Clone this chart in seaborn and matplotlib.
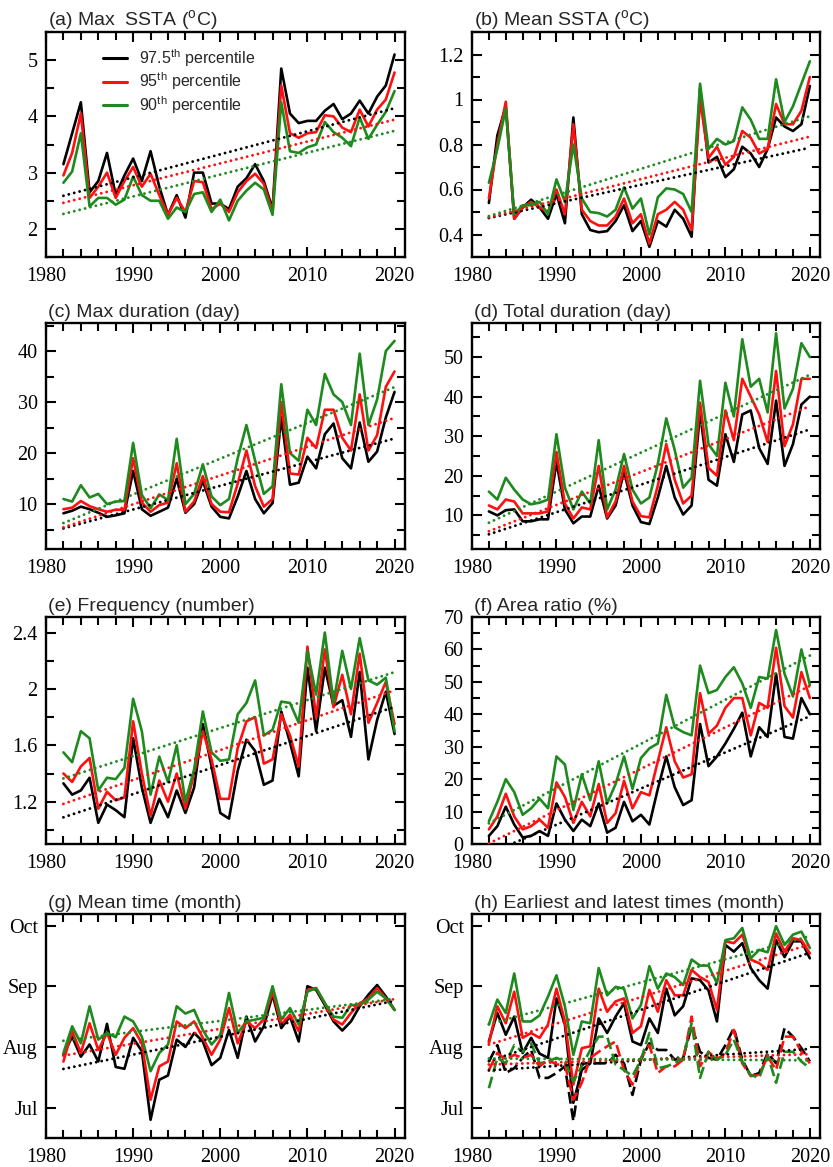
import numpy as np
import matplotlib
matplotlib.use("Agg")
import matplotlib.pyplot as plt
from matplotlib.ticker import MultipleLocator, FixedLocator, NullLocator
from matplotlib.lines import Line2D
import seaborn as sns

years = list(range(1982, 2021))

# (a) Max SSTA
a_975 = [3.15, 3.70, 4.25, 2.65, 2.85, 3.35, 2.60, 2.95, 3.25, 2.85, 3.38, 2.75, 2.25, 2.60, 2.20, 3.00, 3.00, 2.45, 2.45, 2.35,
         2.75, 2.90, 3.15, 2.85, 2.35, 4.85, 4.05, 3.88, 3.92, 3.92, 4.10, 4.22, 3.95, 4.05, 4.28, 4.05, 4.35, 4.55, 5.10]
a_95 = [2.95, 3.35, 4.05, 2.55, 2.75, 3.00, 2.55, 2.85, 3.10, 2.75, 2.98, 2.60, 2.25, 2.55, 2.30, 2.85, 2.83, 2.35, 2.45, 2.30,
        2.65, 2.85, 2.98, 2.80, 2.30, 4.55, 3.70, 3.62, 3.70, 3.72, 4.02, 4.00, 3.80, 3.72, 4.12, 3.82, 4.12, 4.30, 4.78]
a_90 = [2.82, 3.02, 3.70, 2.40, 2.55, 2.55, 2.43, 2.52, 2.93, 2.60, 2.50, 2.50, 2.18, 2.38, 2.30, 2.62, 2.65, 2.30, 2.52, 2.15,
        2.50, 2.68, 2.82, 2.70, 2.25, 4.25, 3.38, 3.35, 3.45, 3.50, 3.90, 3.72, 3.62, 3.47, 3.98, 3.60, 3.85, 4.08, 4.45]

# (b) Mean SSTA
b_975 = [0.54, 0.84, 0.97, 0.47, 0.52, 0.555, 0.52, 0.47, 0.58, 0.45, 0.92, 0.49, 0.42, 0.41, 0.415, 0.46, 0.53, 0.415, 0.46, 0.345,
         0.46, 0.435, 0.51, 0.47, 0.39, 1.05, 0.72, 0.745, 0.655, 0.69, 0.79, 0.76, 0.70, 0.78, 0.92, 0.88, 0.86, 0.89, 1.06]
b_95 = [0.56, 0.80, 0.99, 0.47, 0.52, 0.545, 0.52, 0.50, 0.60, 0.49, 0.89, 0.51, 0.46, 0.44, 0.44, 0.48, 0.56, 0.45, 0.49, 0.36,
        0.49, 0.51, 0.545, 0.51, 0.42, 1.00, 0.74, 0.79, 0.71, 0.745, 0.86, 0.83, 0.76, 0.78, 0.98, 0.89, 0.89, 0.95, 1.10]
b_90 = [0.63, 0.78, 0.96, 0.49, 0.53, 0.53, 0.545, 0.49, 0.645, 0.545, 0.80, 0.56, 0.50, 0.495, 0.48, 0.51, 0.61, 0.515, 0.56, 0.40,
        0.565, 0.605, 0.60, 0.58, 0.50, 1.07, 0.78, 0.825, 0.80, 0.815, 0.965, 0.91, 0.825, 0.825, 1.09, 0.90, 0.97, 1.07, 1.17]

# (c) Max duration
c_975 = [8.2, 8.7, 9.5, 9.0, 8.3, 7.5, 7.8, 8.2, 16.5, 9.0, 7.7, 8.5, 9.3, 15.0, 8.3, 10.0, 14.5, 9.5, 7.5, 7.2,
         11.5, 16.5, 11.0, 8.2, 10.2, 27.0, 13.8, 14.2, 19.3, 17.0, 23.7, 25.8, 19.0, 17.0, 26.0, 18.3, 20.3, 27.0, 32.0]
c_95 = [9.0, 9.3, 10.6, 9.6, 9.0, 8.5, 8.9, 8.9, 19.0, 10.3, 8.5, 9.8, 10.3, 18.0, 8.5, 10.5, 15.5, 10.0, 8.5, 8.4,
        14.0, 20.5, 13.5, 9.5, 11.0, 30.0, 16.0, 15.8, 23.0, 21.0, 28.5, 28.5, 23.0, 20.5, 31.5, 20.5, 23.5, 33.0, 36.0]
c_90 = [11.0, 10.5, 13.7, 11.3, 12.0, 10.0, 10.5, 10.6, 22.0, 11.8, 9.2, 11.9, 10.8, 22.8, 10.0, 12.0, 17.8, 11.5, 9.8, 11.0,
        19.0, 25.5, 18.5, 12.0, 13.5, 33.5, 20.0, 18.5, 28.5, 25.5, 35.5, 31.5, 30.0, 25.5, 39.5, 25.5, 30.5, 40.0, 42.0]

# (d) Total duration
d_975 = [11.0, 10.0, 11.3, 11.5, 8.5, 8.5, 9.0, 9.0, 23.5, 11.5, 8.0, 9.7, 9.7, 17.5, 9.2, 12.5, 21.0, 12.5, 8.3, 7.8,
         14.5, 22.5, 14.5, 10.2, 12.5, 36.0, 19.0, 17.5, 30.5, 23.5, 35.5, 36.5, 27.0, 23.0, 39.0, 22.5, 28.0, 38.0, 40.0]
d_95 = [12.5, 11.5, 14.0, 13.5, 10.5, 10.5, 10.5, 11.0, 26.0, 13.0, 9.2, 12.0, 11.5, 22.5, 9.5, 13.5, 22.5, 13.5, 9.8, 9.5,
        17.5, 28.0, 19.0, 13.0, 15.0, 38.5, 22.0, 20.0, 36.5, 29.0, 44.5, 40.0, 35.5, 28.5, 46.5, 27.5, 33.0, 44.5, 44.5]
d_90 = [16.0, 14.0, 19.5, 16.5, 14.0, 12.8, 13.2, 14.0, 30.5, 17.0, 11.5, 16.0, 13.0, 29.0, 11.5, 16.5, 25.5, 16.5, 13.0, 14.5,
        23.0, 34.5, 26.5, 17.0, 19.5, 44.0, 28.0, 25.0, 43.5, 35.0, 54.5, 42.5, 44.5, 36.0, 56.0, 37.0, 42.0, 53.5, 50.0]

# (e) Frequency
e_975 = [1.33, 1.25, 1.28, 1.37, 1.05, 1.18, 1.14, 1.09, 1.65, 1.30, 1.05, 1.22, 1.09, 1.28, 1.12, 1.30, 1.75, 1.45, 1.12, 1.08,
         1.42, 1.64, 1.56, 1.32, 1.35, 1.84, 1.62, 1.38, 2.15, 1.70, 2.15, 1.88, 1.92, 1.66, 2.12, 1.50, 1.78, 1.98, 1.68]
e_95 = [1.40, 1.34, 1.45, 1.51, 1.15, 1.27, 1.21, 1.23, 1.77, 1.40, 1.10, 1.35, 1.20, 1.40, 1.15, 1.40, 1.70, 1.50, 1.22, 1.22,
        1.58, 1.77, 1.80, 1.47, 1.50, 1.82, 1.67, 1.45, 2.30, 1.80, 2.28, 1.87, 2.10, 1.82, 2.25, 1.76, 1.90, 2.05, 1.75]
e_90 = [1.55, 1.48, 1.70, 1.65, 1.28, 1.37, 1.36, 1.44, 1.93, 1.70, 1.25, 1.52, 1.34, 1.60, 1.20, 1.43, 1.84, 1.55, 1.49, 1.50,
        1.82, 1.90, 2.06, 1.67, 1.71, 1.91, 1.90, 1.76, 2.27, 1.96, 2.40, 1.90, 2.27, 2.00, 2.36, 2.06, 2.03, 2.08, 1.70]

# (f) Area ratio
f_975 = [2.5, 5.5, 11.5, 6.0, 2.0, 2.5, 4.0, 2.5, 12.5, 7.5, 4.0, 7.5, 5.5, 12.5, 3.5, 5.0, 13.0, 7.0, 9.0, 6.0,
         17.0, 27.0, 17.5, 12.0, 13.5, 37.0, 24.0, 27.0, 31.0, 35.5, 40.5, 27.0, 36.0, 33.0, 52.5, 33.0, 32.5, 45.0, 40.0]
f_95 = [4.5, 8.5, 15.5, 8.5, 4.5, 5.5, 7.5, 5.0, 19.0, 14.5, 6.5, 13.0, 8.5, 18.5, 6.5, 9.5, 19.5, 11.0, 16.0, 15.0,
        25.5, 36.0, 25.5, 20.5, 21.5, 46.5, 34.0, 36.5, 42.0, 45.0, 45.0, 33.5, 43.5, 42.0, 60.5, 42.5, 39.0, 53.0, 45.0]
f_90 = [7.0, 13.0, 20.0, 16.0, 9.0, 11.0, 14.0, 11.0, 27.0, 24.5, 10.5, 21.5, 13.5, 25.5, 12.5, 18.5, 27.0, 17.0, 26.5, 29.5,
        31.0, 46.0, 36.0, 34.5, 33.5, 55.0, 46.5, 47.5, 51.5, 54.5, 49.5, 42.0, 51.5, 51.0, 66.0, 52.5, 45.5, 60.0, 49.0]

# (g) Mean time (month number: 7 = Jul ... 10 = Oct)
g_975 = [7.87, 8.17, 7.84, 8.04, 7.76, 8.38, 7.67, 7.64, 8.15, 7.93, 6.80, 7.46, 7.53, 8.12, 8.00, 8.23, 8.09, 7.70, 7.82, 8.28,
         7.82, 8.50, 8.09, 8.34, 8.86, 8.31, 8.50, 8.09, 9.00, 8.94, 8.69, 8.42, 8.27, 8.42, 8.67, 8.86, 9.02, 8.83, 8.61]
g_95 = [7.76, 8.26, 7.90, 8.39, 7.95, 8.23, 7.87, 8.15, 8.31, 8.06, 7.13, 7.68, 7.76, 8.42, 8.31, 8.42, 8.15, 7.87, 8.12, 8.64,
        8.06, 8.42, 8.31, 8.45, 8.91, 8.37, 8.53, 8.26, 8.94, 8.97, 8.72, 8.45, 8.37, 8.56, 8.72, 8.80, 8.97, 8.80, 8.61]
g_90 = [7.90, 8.34, 8.06, 8.67, 8.12, 8.23, 8.16, 8.50, 8.42, 8.17, 7.60, 7.90, 8.04, 8.67, 8.55, 8.61, 8.28, 8.04, 8.20, 8.89,
        8.23, 8.42, 8.45, 8.48, 9.00, 8.45, 8.64, 8.37, 8.91, 8.97, 8.72, 8.50, 8.48, 8.69, 8.69, 8.78, 8.91, 8.80, 8.61]

# (h) Latest times (solid)
h_late_975 = [8.09, 8.56, 8.20, 8.50, 7.90, 8.15, 7.89, 7.82, 8.80, 8.37, 7.08, 7.62, 7.73, 8.47, 8.23, 8.50, 8.72, 8.09, 8.03, 8.47,
              8.23, 8.96, 8.52, 8.67, 9.13, 9.10, 8.93, 8.42, 9.68, 9.57, 9.71, 9.30, 9.10, 8.96, 9.76, 9.48, 9.74, 9.74, 9.46]
h_late_95 = [8.06, 8.67, 8.39, 8.91, 8.15, 8.23, 8.15, 8.37, 8.96, 8.42, 7.38, 7.98, 8.01, 8.96, 8.58, 8.75, 8.80, 8.23, 8.34, 8.94,
             8.58, 9.10, 8.85, 8.85, 9.27, 9.15, 9.07, 8.61, 9.74, 9.71, 9.85, 9.44, 9.38, 9.27, 9.87, 9.57, 9.79, 9.76, 9.54]
h_late_90 = [8.37, 8.78, 8.56, 9.21, 8.42, 8.42, 8.52, 8.83, 9.18, 8.67, 7.87, 8.42, 8.39, 9.30, 8.85, 8.99, 8.96, 8.47, 8.69, 9.33,
             8.96, 9.21, 9.15, 9.02, 9.44, 9.34, 9.34, 9.05, 9.76, 9.79, 9.96, 9.46, 9.60, 9.56, 9.99, 9.68, 9.85, 9.90, 9.63]
# (h) Earliest times (dashed)
h_early_975 = [7.76, 8.03, 7.57, 7.65, 7.82, 7.95, 7.49, 7.49, 7.57, 7.68, 6.78, 7.73, 7.73, 7.73, 7.73, 7.87, 7.73, 7.21, 7.79, 8.06,
               7.95, 7.95, 7.79, 7.82, 8.34, 7.92, 7.82, 7.79, 8.03, 8.31, 7.79, 7.52, 7.57, 7.90, 7.73, 8.31, 8.17, 7.98, 7.76]
h_early_95 = [7.62, 7.90, 7.79, 7.87, 7.82, 7.87, 7.68, 7.79, 7.71, 7.71, 7.13, 7.41, 7.82, 7.92, 8.01, 8.09, 7.62, 7.38, 7.82, 8.03,
              7.57, 7.68, 7.68, 7.79, 8.50, 7.68, 7.92, 7.79, 7.90, 8.28, 7.73, 7.52, 7.54, 7.84, 7.62, 8.17, 8.17, 7.92, 7.73]
h_early_90 = [7.32, 7.82, 7.73, 8.03, 7.92, 8.06, 7.73, 7.76, 7.82, 7.76, 7.43, 7.68, 7.95, 8.17, 8.17, 7.71, 7.62, 7.52, 7.79, 8.23,
              7.65, 7.68, 7.73, 7.82, 8.39, 7.49, 7.92, 7.79, 7.87, 8.12, 7.76, 7.54, 7.49, 7.87, 7.41, 7.92, 7.92, 7.76, 7.65]

series_labels = [r"97.5$^{\rm th}$ percentile", r"95$^{\rm th}$ percentile", r"90$^{\rm th}$ percentile"]
series_colors = ["black", "#ff1010", "#1e8a1e"]

month_ticks = [7, 8, 9, 10]
month_labels = ["Jul", "Aug", "Sep", "Oct"]

titles = [r"(a) Max  SSTA ($^{\rm o}$C)", r"(b) Mean SSTA ($^{\rm o}$C)", "(c) Max duration (day)",
          "(d) Total duration (day)", "(e) Frequency (number)", "(f) Area ratio (%)",
          "(g) Mean time (month)", "(h) Earliest and latest times (month)"]

sns.set_style("ticks")
plt.rcParams.update({
    "font.family": ["Liberation Serif", "DejaVu Serif"],
    "mathtext.fontset": "custom",
    "mathtext.rm": "Liberation Sans",
    "mathtext.it": "Liberation Sans:italic",
    "mathtext.bf": "Liberation Sans:bold",
    "axes.linewidth": 1.7,
    "axes.edgecolor": "black",
})

fig = plt.figure(figsize=(8.33, 11.67), dpi=100)
W, H = 833.0, 1167.0
cols = [(46, 405), (472, 820)]
rows = [(32, 257), (323, 549), (617, 844), (914, 1138)]


def make_ax(r, c):
    x0, x1 = cols[c]
    y0, y1 = rows[r]
    return fig.add_axes([x0 / W, 1 - y1 / H, (x1 - x0) / W, (y1 - y0) / H])


panels = [
    dict(data=[a_975, a_95, a_90], ylim=(1.5, 5.5), major=[2, 3, 4, 5], labels=["2", "3", "4", "5"], minor=0.5),
    dict(data=[b_975, b_95, b_90], ylim=(0.3, 1.3), major=[0.4, 0.6, 0.8, 1.0, 1.2],
         labels=["0.4", "0.6", "0.8", "1", "1.2"], minor=0.1),
    dict(data=[c_975, c_95, c_90], ylim=(1.2, 45.5), major=[10, 20, 30, 40], labels=["10", "20", "30", "40"], minor=5),
    dict(data=[d_975, d_95, d_90], ylim=(1.5, 58.6), major=[10, 20, 30, 40, 50],
         labels=["10", "20", "30", "40", "50"], minor=5),
    dict(data=[e_975, e_95, e_90], ylim=(0.9, 2.51), major=[1.2, 1.6, 2.0, 2.4],
         labels=["1.2", "1.6", "2", "2.4"], minor=0.2),
    dict(data=[f_975, f_95, f_90], ylim=(0, 70), major=[0, 10, 20, 30, 40, 50, 60, 70],
         labels=["0", "10", "20", "30", "40", "50", "60", "70"], minor=5),
    dict(data=[g_975, g_95, g_90], ylim=(6.5, 10.19), major=month_ticks, labels=month_labels, minor=None),
    dict(data=[h_late_975, h_late_95, h_late_90], data2=[h_early_975, h_early_95, h_early_90],
         ylim=(6.5, 10.19), major=month_ticks, labels=month_labels, minor=None),
]

yrs = np.array(years, dtype=float)
dot_style = (0, (0.01, 1.9))

for i, p in enumerate(panels):
    ax = make_ax(i // 2, i % 2)
    groups = [(p["data"], "-")]
    if "data2" in p:
        groups.append((p["data2"], (0, (4.5, 1.8))))
    for data, ls in groups:
        for vals, col in zip(data, series_colors):
            sns.lineplot(x=yrs, y=np.array(vals), ax=ax, color=col, lw=1.9, linestyle=ls, zorder=3)
            sns.regplot(x=yrs, y=np.array(vals), ax=ax, scatter=False, ci=None, truncate=True,
                        line_kws=dict(color=col, lw=2.1, linestyle=dot_style, dash_capstyle="round", zorder=4))
    ax.set_xlim(1980, 2021.2)
    ax.set_ylim(*p["ylim"])
    ax.set_xlabel("")
    ax.set_ylabel("")
    ax.xaxis.set_major_locator(FixedLocator([1980, 1990, 2000, 2010, 2020]))
    ax.set_xticklabels(["1980", "1990", "2000", "2010", "2020"])
    ax.xaxis.set_minor_locator(MultipleLocator(2))
    ax.yaxis.set_major_locator(FixedLocator(p["major"]))
    ax.set_yticklabels(p["labels"])
    if p["minor"]:
        ax.yaxis.set_minor_locator(MultipleLocator(p["minor"]))
    else:
        ax.yaxis.set_minor_locator(NullLocator())
    ax.tick_params(which="both", direction="in", top=True, right=True, width=1.5, labelsize=14.5,
                   colors="black")
    ax.tick_params(axis="y", which="both", pad=6)
    ax.tick_params(axis="x", which="both", pad=7.5)
    ax.tick_params(which="major", length=7)
    ax.tick_params(which="minor", length=5.5)
    ax.set_title(titles[i], loc="left", fontsize=14, family="Liberation Sans", pad=4, x=0.005)
    for sp in ax.spines.values():
        sp.set_linewidth(1.7)
    if i == 0:
        handles = [Line2D([], [], color=c, lw=2.2) for c in series_colors]
        ax.legend(handles, series_labels, loc="upper left", bbox_to_anchor=(0.14, 0.962), frameon=False,
                  handlelength=1.55, handletextpad=0.75, labelspacing=0.12, borderaxespad=0.0,
                  prop=dict(family="Liberation Sans", size=11.5))

fig.savefig("out.png", dpi=100)
